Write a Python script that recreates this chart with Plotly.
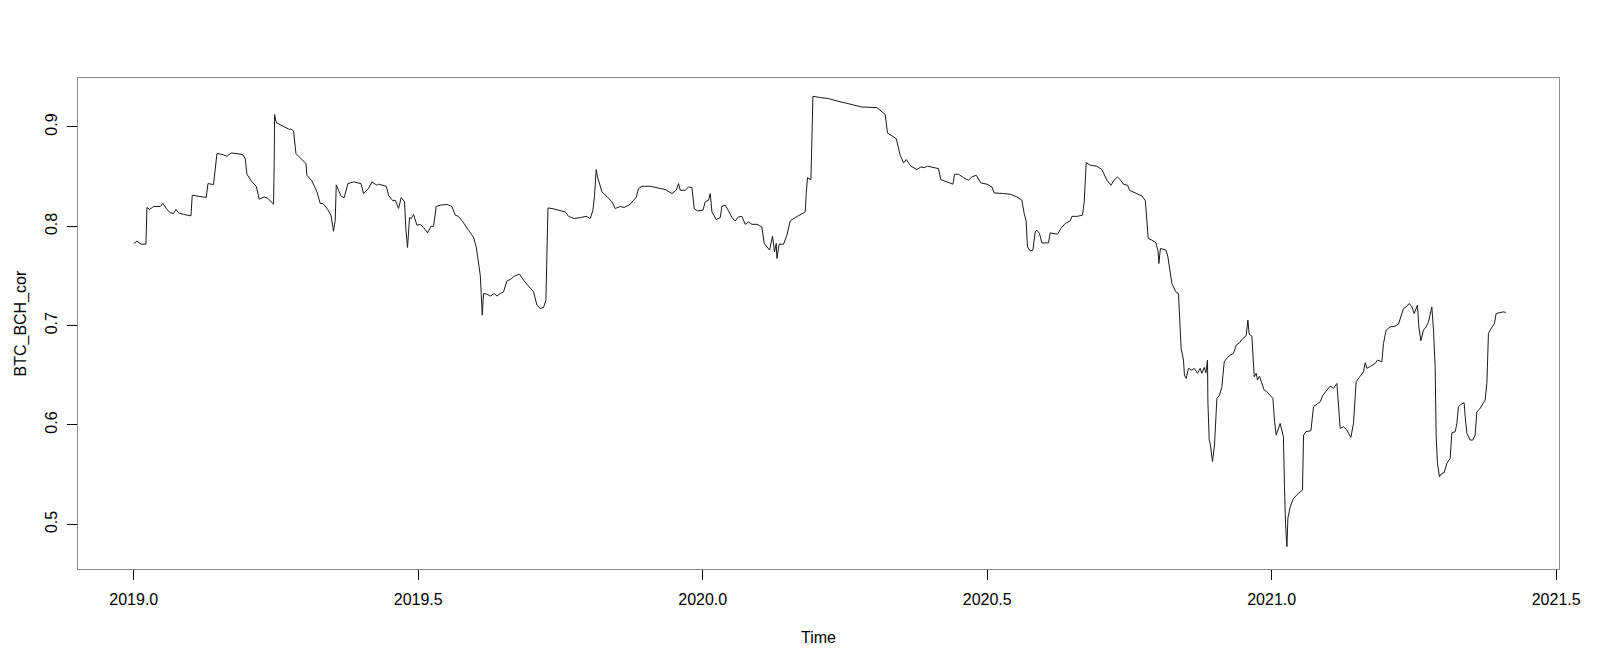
import plotly.graph_objects as go

# Decimal-year time index and correlation values
time = [
    2019.0000, 2019.0056, 2019.0127, 2019.0214, 2019.0232, 2019.0278, 2019.0348, 2019.0466, 2019.0513, 2019.0571,
    2019.0641, 2019.0699, 2019.0742, 2019.0787, 2019.0875, 2019.1005, 2019.1028, 2019.1169, 2019.1274, 2019.1304,
    2019.1402, 2019.1462, 2019.1550, 2019.1638, 2019.1708, 2019.1814, 2019.1919, 2019.1960, 2019.1989, 2019.2077,
    2019.2153, 2019.2206, 2019.2293, 2019.2359, 2019.2457, 2019.2469, 2019.2475, 2019.2504, 2019.2663, 2019.2738,
    2019.2763, 2019.2808, 2019.2851, 2019.2956, 2019.3026, 2019.3044, 2019.3132, 2019.3220, 2019.3278, 2019.3325,
    2019.3406, 2019.3466, 2019.3511, 2019.3541, 2019.3559, 2019.3599, 2019.3647, 2019.3699, 2019.3764, 2019.3863,
    2019.3993, 2019.4039, 2019.4127, 2019.4186, 2019.4274, 2019.4302, 2019.4438, 2019.4478, 2019.4555, 2019.4596,
    2019.4654, 2019.4701, 2019.4759, 2019.4784, 2019.4812, 2019.4847, 2019.4877, 2019.4918, 2019.4977, 2019.5035,
    2019.5093, 2019.5164, 2019.5223, 2019.5269, 2019.5316, 2019.5387, 2019.5504, 2019.5592, 2019.5650, 2019.5708,
    2019.5786, 2019.5884, 2019.5972, 2019.6019, 2019.6060, 2019.6090, 2019.6107, 2019.6125, 2019.6148, 2019.6207,
    2019.6265, 2019.6336, 2019.6383, 2019.6441, 2019.6499, 2019.6559, 2019.6617, 2019.6687, 2019.6780, 2019.6851,
    2019.6939, 2019.7027, 2019.7086, 2019.7144, 2019.7202, 2019.7244, 2019.7262, 2019.7280, 2019.7350, 2019.7466,
    2019.7584, 2019.7642, 2019.7742, 2019.7847, 2019.7953, 2019.8023, 2019.8070, 2019.8099, 2019.8128, 2019.8151,
    2019.8229, 2019.8316, 2019.8404, 2019.8462, 2019.8520, 2019.8550, 2019.8620, 2019.8726, 2019.8784, 2019.8831,
    2019.8872, 2019.8931, 2019.9077, 2019.9195, 2019.9341, 2019.9459, 2019.9534, 2019.9575, 2019.9605, 2019.9693,
    2019.9751, 2019.9810, 2019.9851, 2019.9909, 2020.0004, 2020.0044, 2020.0102, 2020.0132, 2020.0162, 2020.0237,
    2020.0308, 2020.0337, 2020.0395, 2020.0454, 2020.0513, 2020.0571, 2020.0629, 2020.0689, 2020.0747, 2020.0805,
    2020.0865, 2020.0953, 2020.1040, 2020.1081, 2020.1128, 2020.1174, 2020.1227, 2020.1262, 2020.1292, 2020.1304,
    2020.1344, 2020.1420, 2020.1480, 2020.1538, 2020.1626, 2020.1714, 2020.1802, 2020.1819, 2020.1842, 2020.1902,
    2020.1919, 2020.1937, 2020.2065, 2020.2211, 2020.2359, 2020.2505, 2020.2650, 2020.2798, 2020.3062, 2020.3207,
    2020.3248, 2020.3401, 2020.3471, 2020.3530, 2020.3577, 2020.3660, 2020.3765, 2020.3835, 2020.3893, 2020.3951,
    2020.4144, 2020.4186, 2020.4292, 2020.4398, 2020.4426, 2020.4496, 2020.4584, 2020.4671, 2020.4731, 2020.4807,
    2020.4889, 2020.4995, 2020.5083, 2020.5123, 2020.5287, 2020.5404, 2020.5522, 2020.5610, 2020.5650, 2020.5685,
    2020.5708, 2020.5756, 2020.5803, 2020.5844, 2020.5873, 2020.5919, 2020.5961, 2020.6078, 2020.6107, 2020.6195,
    2020.6236, 2020.6295, 2020.6371, 2020.6459, 2020.6489, 2020.6577, 2020.6675, 2020.6705, 2020.6740, 2020.6810,
    2020.6928, 2020.7016, 2020.7104, 2020.7175, 2020.7220, 2020.7290, 2020.7337, 2020.7395, 2020.7466, 2020.7501,
    2020.7621, 2020.7691, 2020.7724, 2020.7780, 2020.7830, 2020.7898, 2020.7968, 2020.8004, 2020.8018, 2020.8044,
    2020.8143, 2020.8176, 2020.8246, 2020.8316, 2020.8362, 2020.8409, 2020.8450, 2020.8467, 2020.8497, 2020.8538,
    2020.8597, 2020.8638, 2020.8696, 2020.8743, 2020.8773, 2020.8814, 2020.8844, 2020.8872, 2020.8879, 2020.8902,
    2020.8919, 2020.8960, 2020.8995, 2020.9037, 2020.9083, 2020.9125, 2020.9166, 2020.9224, 2020.9271, 2020.9329,
    2020.9376, 2020.9434, 2020.9494, 2020.9552, 2020.9582, 2020.9605, 2020.9652, 2020.9670, 2020.9693, 2020.9728,
    2020.9751, 2020.9786, 2020.9828, 2020.9868, 2020.9916, 2020.9974, 2021.0021, 2021.0049, 2021.0079, 2021.0149,
    2021.0179, 2021.0207, 2021.0225, 2021.0243, 2021.0268, 2021.0285, 2021.0326, 2021.0384, 2021.0472, 2021.0542,
    2021.0560, 2021.0602, 2021.0690, 2021.0735, 2021.0795, 2021.0853, 2021.0900, 2021.0971, 2021.1029, 2021.1087,
    2021.1146, 2021.1186, 2021.1204, 2021.1262, 2021.1322, 2021.1392, 2021.1438, 2021.1468, 2021.1485, 2021.1556,
    2021.1614, 2021.1644, 2021.1674, 2021.1744, 2021.1820, 2021.1860, 2021.1937, 2021.1965, 2021.2013, 2021.2083,
    2021.2171, 2021.2229, 2021.2271, 2021.2317, 2021.2364, 2021.2417, 2021.2464, 2021.2504, 2021.2562, 2021.2587,
    2021.2622, 2021.2668, 2021.2715, 2021.2756, 2021.2815, 2021.2844, 2021.2873, 2021.2891, 2021.2914, 2021.2949,
    2021.2991, 2021.3032, 2021.3079, 2021.3137, 2021.3167, 2021.3226, 2021.3255, 2021.3283, 2021.3325, 2021.3383,
    2021.3401, 2021.3431, 2021.3489, 2021.3536, 2021.3576, 2021.3606, 2021.3652, 2021.3694, 2021.3752, 2021.3782,
    2021.3810, 2021.3840, 2021.3887, 2021.3915, 2021.3945, 2021.4016, 2021.4074, 2021.4116,
]

btc_bch_cor = [
    0.7827, 0.7850, 0.7820, 0.7820, 0.8190, 0.8169, 0.8200, 0.8200, 0.8230, 0.8180,
    0.8135, 0.8130, 0.8170, 0.8135, 0.8120, 0.8105, 0.8313, 0.8300, 0.8290, 0.8430,
    0.8420, 0.8732, 0.8725, 0.8705, 0.8738, 0.8732, 0.8720, 0.8680, 0.8524, 0.8447,
    0.8403, 0.8273, 0.8296, 0.8280, 0.8222, 0.8665, 0.9125, 0.9044, 0.8994, 0.8974,
    0.8980, 0.8960, 0.8732, 0.8670, 0.8632, 0.8514, 0.8457, 0.8346, 0.8230, 0.8230,
    0.8172, 0.8112, 0.7950, 0.8060, 0.8417, 0.8363, 0.8300, 0.8290, 0.8430, 0.8447,
    0.8430, 0.8330, 0.8380, 0.8447, 0.8413, 0.8424, 0.8403, 0.8313, 0.8256, 0.8263,
    0.8180, 0.8290, 0.8246, 0.7960, 0.7787, 0.8088, 0.8078, 0.8120, 0.8010, 0.8020,
    0.7988, 0.7934, 0.8000, 0.8000, 0.8200, 0.8212, 0.8220, 0.8200, 0.8112, 0.8100,
    0.8044, 0.7960, 0.7890, 0.7793, 0.7592, 0.7508, 0.7324, 0.7106, 0.7324, 0.7317,
    0.7297, 0.7324, 0.7297, 0.7324, 0.7340, 0.7450, 0.7465, 0.7498, 0.7518, 0.7458,
    0.7398, 0.7340, 0.7206, 0.7173, 0.7183, 0.7256, 0.7726, 0.8185, 0.8179, 0.8162,
    0.8145, 0.8100, 0.8078, 0.8088, 0.8100, 0.8078, 0.8162, 0.8313, 0.8571, 0.8497,
    0.8346, 0.8300, 0.8246, 0.8179, 0.8195, 0.8200, 0.8189, 0.8222, 0.8263, 0.8290,
    0.8380, 0.8403, 0.8403, 0.8386, 0.8370, 0.8330, 0.8363, 0.8430, 0.8363, 0.8363,
    0.8396, 0.8390, 0.8179, 0.8155, 0.8162, 0.8246, 0.8263, 0.8330, 0.8145, 0.8068,
    0.8088, 0.8200, 0.8212, 0.8155, 0.8088, 0.8054, 0.8095, 0.8100, 0.8020, 0.8044,
    0.8020, 0.8020, 0.7994, 0.7827, 0.7793, 0.7760, 0.7900, 0.7743, 0.7827, 0.7676,
    0.7820, 0.7820, 0.7910, 0.8054, 0.8088, 0.8118, 0.8145, 0.8330, 0.8490, 0.8470,
    0.8883, 0.9309, 0.9296, 0.9286, 0.9262, 0.9241, 0.9218, 0.9201, 0.9195, 0.9125,
    0.8940, 0.8883, 0.8715, 0.8638, 0.8672, 0.8605, 0.8571, 0.8598, 0.8590, 0.8605,
    0.8581, 0.8470, 0.8447, 0.8424, 0.8524, 0.8524, 0.8490, 0.8464, 0.8497, 0.8514,
    0.8437, 0.8424, 0.8396, 0.8336, 0.8330, 0.8323, 0.8296, 0.8263, 0.8129, 0.8054,
    0.7793, 0.7753, 0.7760, 0.7944, 0.7960, 0.7927, 0.7833, 0.7833, 0.7934, 0.7927,
    0.7920, 0.7978, 0.8028, 0.8054, 0.8100, 0.8100, 0.8112, 0.8246, 0.8642, 0.8615,
    0.8605, 0.8571, 0.8464, 0.8413, 0.8457, 0.8497, 0.8470, 0.8424, 0.8413, 0.8363,
    0.8336, 0.8313, 0.8303, 0.8256, 0.7877, 0.7860, 0.7833, 0.7743, 0.7626, 0.7777,
    0.7760, 0.7692, 0.7424, 0.7340, 0.7324, 0.6770, 0.6653, 0.6502, 0.6469, 0.6570,
    0.6552, 0.6570, 0.6520, 0.6570, 0.6520, 0.6580, 0.6525, 0.6653, 0.6233, 0.5848,
    0.5815, 0.5632, 0.5798, 0.6268, 0.6300, 0.6384, 0.6636, 0.6680, 0.6703, 0.6720,
    0.6804, 0.6827, 0.6871, 0.6900, 0.7055, 0.6914, 0.6894, 0.6736, 0.6485, 0.6520,
    0.6452, 0.6492, 0.6425, 0.6351, 0.6334, 0.6300, 0.6268, 0.6049, 0.5898, 0.6016,
    0.5949, 0.5881, 0.5378, 0.5010, 0.4775, 0.5060, 0.5177, 0.5262, 0.5312, 0.5345,
    0.5898, 0.5932, 0.5942, 0.6183, 0.6210, 0.6233, 0.6300, 0.6351, 0.6391, 0.6368,
    0.6418, 0.6110, 0.5966, 0.5982, 0.5949, 0.5875, 0.6016, 0.6284, 0.6435, 0.6492,
    0.6535, 0.6626, 0.6570, 0.6593, 0.6620, 0.6653, 0.6636, 0.6821, 0.6955, 0.6988,
    0.6995, 0.7015, 0.7089, 0.7173, 0.7189, 0.7223, 0.7189, 0.7122, 0.7206, 0.6988,
    0.6847, 0.6955, 0.6988, 0.7038, 0.7189, 0.6955, 0.6586, 0.5881, 0.5613, 0.5479,
    0.5513, 0.5520, 0.5613, 0.5663, 0.5921, 0.5932, 0.6016, 0.6183, 0.6207, 0.6223,
    0.6083, 0.5915, 0.5848, 0.5848, 0.5898, 0.6133, 0.6157, 0.6200, 0.6251, 0.6418,
    0.6921, 0.6955, 0.6995, 0.7022, 0.7122, 0.7133, 0.7139, 0.7133,
]

x_ticks = [2019.0, 2019.5, 2020.0, 2020.5, 2021.0, 2021.5]
y_ticks = [0.5, 0.6, 0.7, 0.8, 0.9]
x_label = "Time"
y_label = "BTC_BCH_cor"

FONT = "Liberation Sans, Arial, sans-serif"

fig = go.Figure()
fig.add_trace(go.Scatter(
    x=time, y=btc_bch_cor, mode="lines",
    line=dict(color="#1a1a1a", width=1),
    showlegend=False, hoverinfo="x+y",
))

axis_common = dict(
    automargin=False,
    showgrid=False, zeroline=False,
    showline=True, linecolor="#8c8c8c", linewidth=1, mirror=True,
    ticks="outside", ticklen=10, tickcolor="#000000", tickwidth=1,
    tickfont=dict(family=FONT, size=16, color="#000000"),
    tickformat=".1f",
)

# The page body has an 8px default margin, so the figure is 8px smaller
# and its left/top margins are reduced by 8px to keep the plot box in place.
fig.update_layout(
    template="none",
    width=1592, height=658,
    paper_bgcolor="white", plot_bgcolor="white",
    margin=dict(l=70, r=41, t=70, b=97, pad=0),
    font=dict(family=FONT, size=16, color="#000000"),
    xaxis=dict(range=[2018.902, 2021.505], tickvals=x_ticks,
               ticklabelstandoff=6, **axis_common),
    yaxis=dict(range=[0.455, 0.9493], tickvals=y_ticks, tickangle=-90,
               ticklabelstandoff=4, **axis_common),
    annotations=[
        dict(text=x_label, xref="paper", yref="paper", x=0.5, y=0,
             xanchor="center", yanchor="middle", yshift=-68, showarrow=False,
             font=dict(family=FONT, size=16, color="#000000")),
        dict(text=y_label, xref="paper", yref="paper", x=0, y=0.5,
             xanchor="center", yanchor="middle", xshift=-58, textangle=-90,
             showarrow=False, font=dict(family=FONT, size=16, color="#000000")),
    ],
)

fig.write_html("out.html")
